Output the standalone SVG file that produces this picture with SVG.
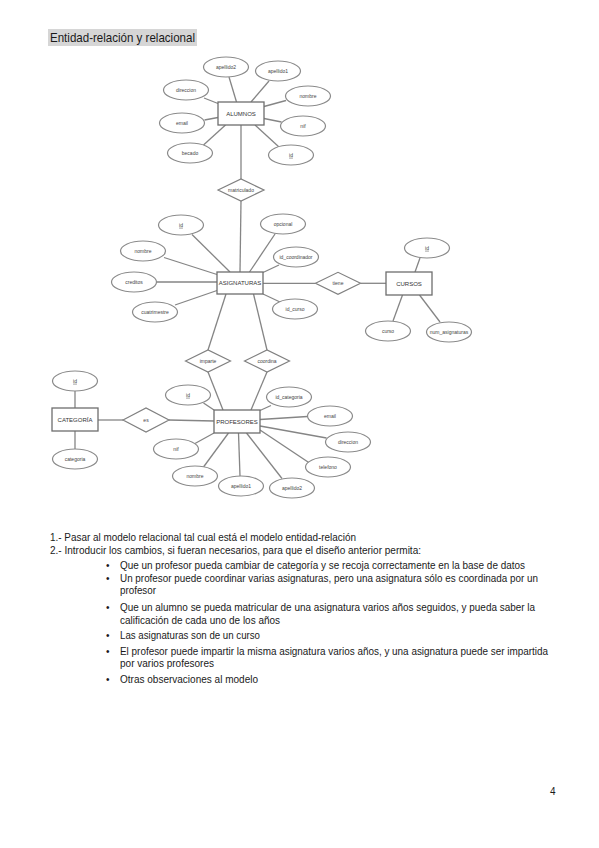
<svg xmlns="http://www.w3.org/2000/svg" width="599" height="848" viewBox="0 0 599 848">
<style>
.bg{fill:#ffffff}
.ent{fill:#ffffff;stroke:#6e6e6e;stroke-width:1.3}
.att{fill:#ffffff;stroke:#8a8a8a;stroke-width:1.2}
.rel{fill:#ffffff;stroke:#808080;stroke-width:1.2}
.ln{stroke:#858585;stroke-width:1.3;fill:none}
.et{font-family:"Liberation Sans",Arial,sans-serif;font-size:6px;fill:#333;text-anchor:middle}
.at{font-family:"Liberation Sans",Arial,sans-serif;font-size:5px;fill:#444;text-anchor:middle}
.key{text-decoration:underline}
.body{font-family:"Liberation Sans",Arial,sans-serif;font-size:10px;fill:#1a1a1a}
.title{font-family:"Liberation Sans",Arial,sans-serif;font-size:13px;fill:#1a1a1a}
</style>
<rect class="bg" x="0" y="0" width="599" height="848"/>

<g id="title">
<rect x="48" y="29" width="149" height="17" fill="#d6d6d6"/>
<text class="title" x="50" y="42" textLength="145" lengthAdjust="spacingAndGlyphs">Entidad-relación y relacional</text>
</g>

<g id="connectors">
<!-- ALUMNOS -->
<line class="ln" x1="229" y1="77" x2="236.5" y2="102"/>
<line class="ln" x1="269" y1="81" x2="251" y2="102"/>
<line class="ln" x1="204" y1="98" x2="218" y2="103.5"/>
<line class="ln" x1="286" y1="100.5" x2="264" y2="106.5"/>
<line class="ln" x1="204.5" y1="120" x2="218" y2="117.5"/>
<line class="ln" x1="281.5" y1="122" x2="264" y2="118.5"/>
<line class="ln" x1="203.5" y1="145" x2="225.5" y2="125"/>
<line class="ln" x1="279" y1="147" x2="255" y2="125"/>
<line class="ln" x1="241" y1="125" x2="241" y2="179"/>
<line class="ln" x1="241" y1="201" x2="240" y2="272"/>
<!-- ASIGNATURAS -->
<line class="ln" x1="192" y1="234.5" x2="230" y2="272"/>
<line class="ln" x1="275" y1="234" x2="249.5" y2="272"/>
<line class="ln" x1="164" y1="257.5" x2="217" y2="274.5"/>
<line class="ln" x1="279" y1="265" x2="263" y2="272.5"/>
<line class="ln" x1="156.5" y1="282" x2="217" y2="282"/>
<line class="ln" x1="175" y1="305" x2="217" y2="290.5"/>
<line class="ln" x1="280" y1="302" x2="263" y2="294"/>
<line class="ln" x1="263" y1="283.3" x2="315.5" y2="283.3"/>
<line class="ln" x1="360.5" y1="283.3" x2="386" y2="283.3"/>
<line class="ln" x1="226" y1="294" x2="208" y2="350"/>
<line class="ln" x1="253.5" y1="294" x2="267" y2="350"/>
<line class="ln" x1="208" y1="372" x2="223" y2="410"/>
<line class="ln" x1="267" y1="372" x2="251" y2="410"/>
<!-- CURSOS -->
<line class="ln" x1="420" y1="258" x2="415" y2="272"/>
<line class="ln" x1="402.5" y1="295" x2="393" y2="321"/>
<line class="ln" x1="419.5" y1="295" x2="440" y2="322"/>
<!-- PROFESORES -->
<line class="ln" x1="203.5" y1="403" x2="214" y2="410"/>
<line class="ln" x1="271" y1="405.5" x2="260" y2="410.5"/>
<line class="ln" x1="307.5" y1="416.5" x2="260" y2="419.5"/>
<line class="ln" x1="326.5" y1="438" x2="260" y2="426"/>
<line class="ln" x1="309.5" y1="463" x2="260" y2="430"/>
<line class="ln" x1="282" y1="478.5" x2="246.5" y2="433"/>
<line class="ln" x1="240" y1="476" x2="238.5" y2="433"/>
<line class="ln" x1="203.5" y1="467" x2="228.5" y2="433"/>
<line class="ln" x1="195" y1="443.5" x2="214" y2="433"/>
<line class="ln" x1="169" y1="420" x2="214" y2="421"/>
<!-- CATEGORIA -->
<line class="ln" x1="98" y1="420" x2="123" y2="420"/>
<line class="ln" x1="75" y1="391" x2="75" y2="408"/>
<line class="ln" x1="75" y1="431" x2="75" y2="449"/>
</g>

<!-- ALUMNOS -->
<g id="alumnos"><rect class="ent" x="218" y="102" width="46" height="23"/><text class="et" x="241" y="115.5">ALUMNOS</text></g>
<g id="al_apellido2"><ellipse class="att" cx="226" cy="67" rx="22.5" ry="10"/><text class="at" x="226" y="68.8">apellido2</text></g>
<g id="al_apellido1"><ellipse class="att" cx="278" cy="71" rx="22.5" ry="10"/><text class="at" x="278" y="72.8">apellido1</text></g>
<g id="al_direccion"><ellipse class="att" cx="186" cy="90" rx="22.5" ry="10"/><text class="at" x="186" y="91.8">direccion</text></g>
<g id="al_nombre"><ellipse class="att" cx="308" cy="96" rx="22.5" ry="10"/><text class="at" x="308" y="97.8">nombre</text></g>
<g id="al_email"><ellipse class="att" cx="182" cy="123" rx="22.5" ry="10"/><text class="at" x="182" y="124.8">email</text></g>
<g id="al_nif"><ellipse class="att" cx="303" cy="126" rx="22.5" ry="10"/><text class="at" x="303" y="127.8">nif</text></g>
<g id="al_becado"><ellipse class="att" cx="190" cy="153" rx="22.5" ry="10"/><text class="at" x="190" y="154.8">becado</text></g>
<g id="al_id"><ellipse class="att" cx="291" cy="155" rx="22.5" ry="10"/><text class="at key" x="291" y="156.8">id</text></g>

<g id="matriculado"><polygon class="rel" points="218,190 241,179 264,190 241,201"/><text class="at" x="241" y="191.8">matriculado</text></g>

<!-- ASIGNATURAS -->
<g id="asignaturas"><rect class="ent" x="217" y="272" width="46" height="22"/><text class="et" x="240" y="285">ASIGNATURAS</text></g>
<g id="as_id"><ellipse class="att" cx="181" cy="225" rx="22.5" ry="10"/><text class="at key" x="181" y="226.8">id</text></g>
<g id="as_opcional"><ellipse class="att" cx="283" cy="224" rx="22.5" ry="10"/><text class="at" x="283" y="225.8">opcional</text></g>
<g id="as_nombre"><ellipse class="att" cx="143" cy="251" rx="22.5" ry="10"/><text class="at" x="143" y="252.8">nombre</text></g>
<g id="as_id_coordinador"><ellipse class="att" cx="296" cy="257" rx="22.5" ry="10"/><text class="at" x="296" y="258.8">id_coordinador</text></g>
<g id="as_creditos"><ellipse class="att" cx="134" cy="282" rx="22.5" ry="10"/><text class="at" x="134" y="283.8">creditos</text></g>
<g id="as_id_curso"><ellipse class="att" cx="295" cy="309" rx="22.5" ry="10"/><text class="at" x="295" y="310.8">id_curso</text></g>
<g id="as_cuatrimestre"><ellipse class="att" cx="155" cy="312" rx="22.5" ry="10"/><text class="at" x="155" y="313.8">cuatrimestre</text></g>

<g id="tiene"><polygon class="rel" points="315.5,283.3 338,272.3 360.5,283.3 338,294.3"/><text class="at" x="338" y="285.1">tiene</text></g>

<!-- CURSOS -->
<g id="cursos"><rect class="ent" x="386" y="272" width="46" height="23"/><text class="et" x="409" y="285.5">CURSOS</text></g>
<g id="cu_id"><ellipse class="att" cx="427" cy="248" rx="22.5" ry="10"/><text class="at key" x="427" y="249.8">id</text></g>
<g id="cu_curso"><ellipse class="att" cx="388" cy="331" rx="22.5" ry="10"/><text class="at" x="388" y="332.8">curso</text></g>
<g id="cu_num_asignaturas"><ellipse class="att" cx="449" cy="332" rx="22.5" ry="10"/><text class="at" x="449" y="333.8">num_asignaturas</text></g>

<g id="imparte"><polygon class="rel" points="185.5,361 208,350 230.5,361 208,372"/><text class="at" x="208" y="362.8">imparte</text></g>
<g id="coordina"><polygon class="rel" points="244.5,361 267,350 289.5,361 267,372"/><text class="at" x="267" y="362.8">coordina</text></g>

<!-- PROFESORES -->
<g id="profesores"><rect class="ent" x="214" y="410" width="46" height="23"/><text class="et" x="237" y="423.5">PROFESORES</text></g>
<g id="pr_id"><ellipse class="att" cx="188" cy="395" rx="22.5" ry="10"/><text class="at key" x="188" y="396.8">id</text></g>
<g id="pr_id_categoria"><ellipse class="att" cx="289" cy="397" rx="22.5" ry="10"/><text class="at" x="289" y="398.8">id_categoria</text></g>
<g id="pr_email"><ellipse class="att" cx="330" cy="416" rx="22.5" ry="10"/><text class="at" x="330" y="417.8">email</text></g>
<g id="pr_direccion"><ellipse class="att" cx="348" cy="442" rx="22.5" ry="10"/><text class="at" x="348" y="443.8">direccion</text></g>
<g id="pr_telefono"><ellipse class="att" cx="328" cy="467" rx="22.5" ry="10"/><text class="at" x="328" y="468.8">telefono</text></g>
<g id="pr_apellido2"><ellipse class="att" cx="292" cy="488" rx="22.5" ry="10"/><text class="at" x="292" y="489.8">apellido2</text></g>
<g id="pr_apellido1"><ellipse class="att" cx="241" cy="486" rx="22.5" ry="10"/><text class="at" x="241" y="487.8">apellido1</text></g>
<g id="pr_nombre"><ellipse class="att" cx="195" cy="476" rx="22.5" ry="10"/><text class="at" x="195" y="477.8">nombre</text></g>
<g id="pr_nif"><ellipse class="att" cx="176" cy="449" rx="22.5" ry="10"/><text class="at" x="176" y="450.8">nif</text></g>

<g id="es"><polygon class="rel" points="123,420 146,408 169,420 146,432"/><text class="at" x="146" y="421.8">es</text></g>

<!-- CATEGORIA -->
<g id="categoria"><rect class="ent" x="52" y="408" width="46" height="23"/><text class="et" x="75" y="421.5">CATEGORÍA</text></g>
<g id="ca_id"><ellipse class="att" cx="75" cy="381" rx="22.5" ry="10"/><text class="at key" x="75" y="382.8">id</text></g>
<g id="ca_categoria"><ellipse class="att" cx="75" cy="459" rx="22.5" ry="10"/><text class="at" x="75" y="460.8">categoria</text></g>

<g id="text">
<text class="body" x="50" y="540.5" textLength="306" lengthAdjust="spacingAndGlyphs">1.- Pasar al modelo relacional tal cual está el modelo entidad-relación</text>
<text class="body" x="50" y="553.5" textLength="371" lengthAdjust="spacingAndGlyphs">2.- Introducir los cambios, si fueran necesarios, para que el diseño anterior permita:</text>
<text class="body" x="106" y="568.5">•</text>
<text class="body" x="120" y="568.5" textLength="405" lengthAdjust="spacingAndGlyphs">Que un profesor pueda cambiar de categoría y se recoja correctamente en la base de datos</text>
<text class="body" x="106" y="581.5">•</text>
<text class="body" x="120" y="581.5" textLength="418" lengthAdjust="spacingAndGlyphs">Un profesor puede coordinar varias asignaturas, pero una asignatura sólo es coordinada por un</text>
<text class="body" x="120" y="594" textLength="36" lengthAdjust="spacingAndGlyphs">profesor</text>
<text class="body" x="106" y="611">•</text>
<text class="body" x="120" y="611" textLength="415" lengthAdjust="spacingAndGlyphs">Que un alumno se pueda matricular de una asignatura varios años seguidos, y pueda saber la</text>
<text class="body" x="120" y="623.5" textLength="160" lengthAdjust="spacingAndGlyphs">calificación de cada uno de los años</text>
<text class="body" x="106" y="638.5">•</text>
<text class="body" x="120" y="638.5" textLength="140" lengthAdjust="spacingAndGlyphs">Las asignaturas son de un curso</text>
<text class="body" x="106" y="654.5">•</text>
<text class="body" x="120" y="654.5" textLength="428" lengthAdjust="spacingAndGlyphs">El profesor puede impartir la misma asignatura varios años, y una asignatura puede ser impartida</text>
<text class="body" x="120" y="666.5" textLength="94" lengthAdjust="spacingAndGlyphs">por varios profesores</text>
<text class="body" x="106" y="682.5">•</text>
<text class="body" x="120" y="682.5" textLength="138" lengthAdjust="spacingAndGlyphs">Otras observaciones al modelo</text>
<text class="body" x="550" y="795">4</text>
</g>
</svg>
